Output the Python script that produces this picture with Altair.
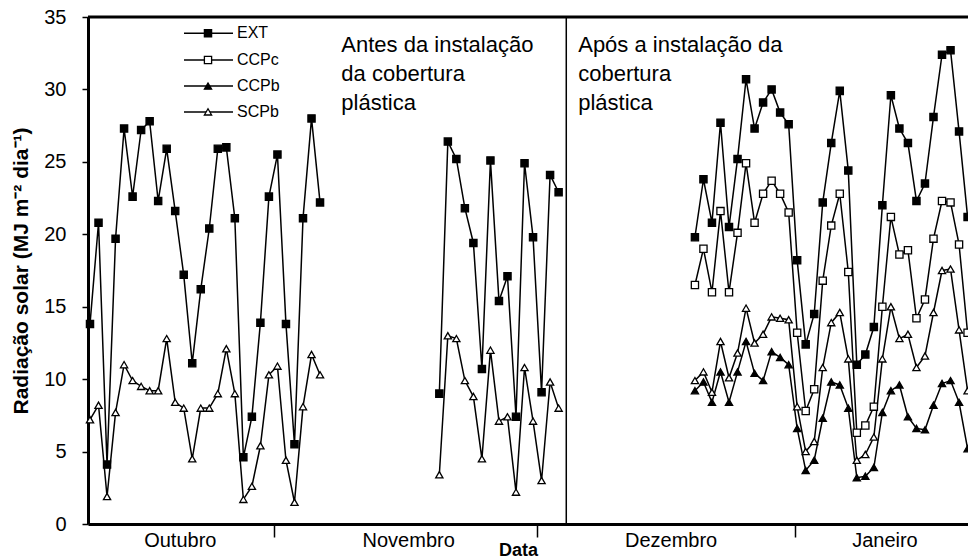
import altair as alt
import pandas as pd

# ---------------- data ----------------
series = ["EXT", "CCPc", "CCPb", "SCPb"]

dias_out = list(range(0, 28))
dias_nov = list(range(41, 56))
dias_dez = list(range(71, 104))

ext_out = [13.8, 20.8, 4.1, 19.7, 27.3, 22.6, 27.2, 27.8, 22.3, 25.9, 21.6, 17.2, 11.1, 16.2,
           20.4, 25.9, 26.0, 21.1, 4.6, 7.4, 13.9, 22.6, 25.5, 13.8, 5.5, 21.1, 28.0, 22.2]
scpb_out = [7.2, 8.2, 1.9, 7.7, 11.0, 9.9, 9.5, 9.2, 9.2, 12.8, 8.4, 8.0, 4.5, 8.0,
            8.0, 9.0, 12.1, 9.0, 1.7, 2.6, 5.4, 10.3, 10.9, 4.4, 1.5, 8.1, 11.7, 10.3]

ext_nov = [9.0, 26.4, 25.2, 21.8, 19.4, 10.7, 25.1, 15.4, 17.1, 7.4, 24.9, 19.8, 9.1, 24.1, 22.9]
scpb_nov = [3.4, 13.0, 12.8, 9.9, 8.8, 4.5, 12.0, 7.1, 7.4, 2.2, 10.8, 7.1, 3.0, 9.8, 8.0]

ext_dez = [19.8, 23.8, 20.8, 27.7, 20.5, 25.2, 30.7, 27.3, 29.1, 30.0, 28.4, 27.6, 18.2, 12.4,
           14.5, 22.2, 26.3, 29.9, 24.4, 11.0, 11.7, 13.6, 22.0, 29.6, 27.3, 26.3, 22.3, 23.5,
           28.1, 32.4, 32.7, 27.1, 21.2]
ccpc_dez = [16.5, 19.0, 16.0, 21.6, 16.0, 20.1, 24.9, 20.8, 22.8, 23.7, 22.8, 21.5, 13.2, 7.8,
            9.3, 16.8, 20.6, 22.8, 17.4, 6.3, 6.8, 8.1, 15.0, 21.2, 18.6, 18.9, 14.2, 15.5,
            19.7, 22.3, 22.2, 19.3, 13.2]
ccpb_dez = [9.2, 9.8, 8.4, 10.5, 8.4, 10.5, 12.6, 10.4, 9.9, 11.9, 11.5, 11.0, 6.6, 3.7,
            4.4, 7.3, 9.8, 9.6, 8.0, 3.2, 3.3, 3.9, 7.7, 9.2, 9.6, 7.4, 6.6, 6.5,
            8.2, 9.7, 9.9, 8.4, 5.2]
scpb_dez = [9.9, 10.5, 9.1, 12.6, 10.1, 11.8, 14.9, 12.5, 13.1, 14.3, 14.2, 14.1, 8.1, 5.0,
            5.7, 10.8, 13.9, 14.6, 11.4, 4.4, 4.8, 6.0, 11.4, 15.0, 12.8, 13.1, 10.8, 11.6,
            14.6, 17.5, 17.6, 13.4, 9.2]

meses = ["Outubro", "Novembro", "Dezembro", "Janeiro"]
meses_pos = [10.6, 37.4, 68.2, 93.3]
divisas = [21.6, 52.5, 82.7]
instalacao = 55.9
y_ticks = [0, 5, 10, 15, 20, 25, 30, 35]

antes_txt = ["Antes da instalação", "da cobertura", "plástica"]
apos_txt = ["Após a instalação da", "cobertura", "plástica"]

# ---------------- tables ----------------
rows = []
def add(serie, seg, dias, vals):
    for d, v in zip(dias, vals):
        rows.append({"serie": serie, "grupo": serie + seg, "dia": d, "valor": v})

add("EXT", "out", dias_out, ext_out)
add("SCPb", "out", dias_out, scpb_out)
add("EXT", "nov", dias_nov, ext_nov)
add("SCPb", "nov", dias_nov, scpb_nov)
add("EXT", "dez", dias_dez, ext_dez)
add("CCPc", "dez", dias_dez, ccpc_dez)
add("CCPb", "dez", dias_dez, ccpb_dez)
add("SCPb", "dez", dias_dez, scpb_dez)
df = pd.DataFrame(rows)

W, H = 880, 507
FONT = "Liberation Sans"

xs = alt.Scale(domain=[-0.235, 103.05], nice=False, zero=False)
ys = alt.Scale(domain=[0, 35], nice=False, zero=False)

shape_scale = alt.Scale(domain=series, range=["square", "square", "triangle-up", "triangle-up"])
fill_scale = alt.Scale(domain=series, range=["black", "white", "black", "white"])

x_enc = alt.X("dia:Q", scale=xs,
              axis=alt.Axis(values=divisas, labels=False, tickSize=13, tickWidth=1.5,
                            tickColor="black", domainWidth=3, domainColor="black",
                            grid=False, title=None))
y_enc = alt.Y("valor:Q", scale=ys,
              axis=alt.Axis(values=y_ticks, tickSize=6, tickWidth=1.5, tickColor="black",
                            domainWidth=3, domainColor="black", grid=False,
                            labelFontSize=20, labelFont=FONT, labelColor="black",
                            labelPadding=16,
                            title="Radiação solar (MJ m⁻² dia⁻¹)",
                            titleFont=FONT, titleFontSize=21, titleFontWeight="bold",
                            titleColor="black", titlePadding=12))

base = alt.Chart(df)
lines = base.mark_line(color="black", strokeWidth=1.5).encode(
    x=x_enc, y=y_enc, detail="grupo:N")
points = base.mark_point(filled=True, stroke="black", strokeWidth=1.3, size=52, opacity=1).encode(
    x="dia:Q", y="valor:Q",
    shape=alt.Shape("serie:N", scale=shape_scale, legend=None),
    fill=alt.Fill("serie:N", scale=fill_scale, legend=None))

# vertical separator and top frame
vline = alt.Chart(pd.DataFrame({"dia": [instalacao]})).mark_rule(
    color="black", strokeWidth=1.5).encode(x="dia:Q")
topline = alt.Chart(pd.DataFrame({"valor": [35]})).mark_rule(
    color="black", strokeWidth=3).encode(y="valor:Q")

# month labels
mes_df = pd.DataFrame({"dia": meses_pos, "mes": meses})
mes_txt = alt.Chart(mes_df).mark_text(font=FONT, fontSize=20, color="black",
                                      baseline="middle").encode(
    x="dia:Q", y=alt.value(H + 17), text="mes:N")
data_txt = alt.Chart(pd.DataFrame({"dia": [50.3], "t": ["Data"]})).mark_text(
    font=FONT, fontSize=18, fontWeight="bold", color="black", baseline="middle").encode(
    x="dia:Q", y=alt.value(H + 27), text="t:N")

# annotations
ann_y = [32.55, 30.58, 28.61]
ann_df = pd.DataFrame({"dia": [29.5] * 3 + [57.3] * 3,
                       "valor": ann_y + ann_y,
                       "t": antes_txt + apos_txt})
ann = alt.Chart(ann_df).mark_text(font=FONT, fontSize=22, color="black", align="left",
                                  baseline="alphabetic").encode(
    x="dia:Q", y="valor:Q", text="t:N")

# legend
leg_y = [33.87, 32.03, 30.23, 28.45]
leg_df = pd.DataFrame({"serie": series, "valor": leg_y})
leg_line = alt.Chart(leg_df).mark_rule(color="black", strokeWidth=1.5).encode(
    x=alt.value(96), x2=alt.value(145), y="valor:Q")
leg_pt = alt.Chart(leg_df).mark_point(filled=True, stroke="black", strokeWidth=1.3,
                                      size=52, opacity=1).encode(
    x=alt.value(120), y="valor:Q",
    shape=alt.Shape("serie:N", scale=shape_scale, legend=None),
    fill=alt.Fill("serie:N", scale=fill_scale, legend=None))
leg_txt = alt.Chart(leg_df).mark_text(font=FONT, fontSize=16, color="black", align="left",
                                      baseline="middle").encode(
    x=alt.value(149), y="valor:Q", text="serie:N")

chart = alt.layer(lines, vline, topline, points, mes_txt, data_txt, ann,
                  leg_line, leg_pt, leg_txt).properties(
    width=W, height=H,
    autosize=alt.AutoSizeParams(type="none"),
    padding={"left": 88, "top": 17, "right": 0, "bottom": 36},
).configure_view(stroke=None).configure(background="white")

chart.save("out.html", embed_options={"renderer": "svg", "actions": False})
